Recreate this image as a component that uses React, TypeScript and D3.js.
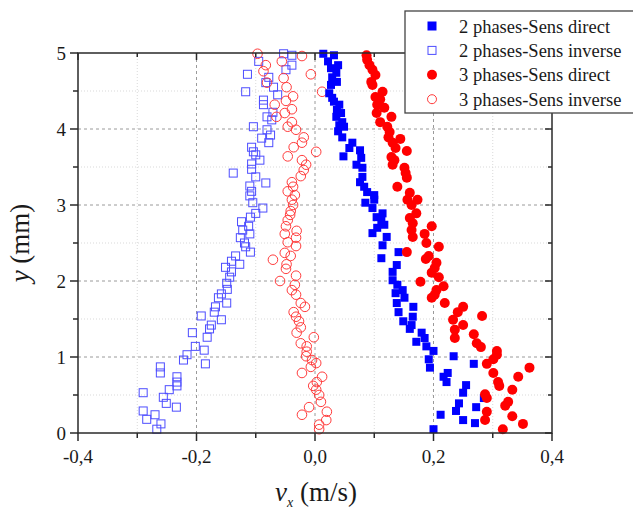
import React from "react";
import * as d3 from "d3";

// [vx (m/s), y (mm)]
const twoPhaseDirect: [number, number][] = [
  [0.014, 4.99], [0.032, 4.97], [0.022, 4.89], [0.039, 4.84], [0.027, 4.8], [0.036, 4.74], [0.029, 4.68],
  [0.037, 4.62], [0.027, 4.58], [0.024, 4.47], [0.029, 4.41], [0.032, 4.36], [0.041, 4.32], [0.037, 4.25],
  [0.044, 4.21], [0.036, 4.16], [0.046, 4.09], [0.041, 4.05], [0.049, 4.03], [0.039, 3.97], [0.046, 3.89],
  [0.063, 3.82], [0.058, 3.75], [0.076, 3.72], [0.048, 3.64], [0.078, 3.62], [0.07, 3.53], [0.08, 3.49],
  [0.08, 3.37], [0.076, 3.3], [0.083, 3.24], [0.088, 3.17], [0.1, 3.13], [0.1, 3.07], [0.085, 3.03],
  [0.097, 2.96], [0.114, 2.89], [0.104, 2.84], [0.112, 2.8], [0.117, 2.74], [0.105, 2.7], [0.097, 2.63],
  [0.121, 2.58], [0.114, 2.47], [0.141, 2.38], [0.112, 2.3], [0.138, 2.21], [0.131, 2.12], [0.131, 2.01],
  [0.139, 1.95], [0.148, 1.88], [0.136, 1.84], [0.151, 1.78], [0.138, 1.71], [0.166, 1.66], [0.141, 1.59],
  [0.165, 1.53], [0.149, 1.47], [0.163, 1.42], [0.16, 1.37], [0.18, 1.32], [0.185, 1.25], [0.171, 1.2],
  [0.188, 1.14], [0.2, 1.08], [0.234, 1.01], [0.192, 0.97], [0.268, 0.91], [0.194, 0.86], [0.224, 0.79],
  [0.217, 0.74], [0.222, 0.67], [0.255, 0.63], [0.25, 0.53], [0.285, 0.46], [0.243, 0.39], [0.272, 0.34],
  [0.238, 0.29], [0.212, 0.24], [0.25, 0.17], [0.27, 0.13], [0.2, 0.05],
];

const twoPhaseInverse: [number, number][] = [
  [-0.053, 4.99], [-0.039, 4.97], [-0.095, 4.89], [-0.039, 4.84], [-0.049, 4.78], [-0.114, 4.72],
  [-0.078, 4.68], [-0.083, 4.61], [-0.07, 4.55], [-0.117, 4.49], [-0.063, 4.45], [-0.087, 4.38],
  [-0.087, 4.32], [-0.071, 4.22], [-0.081, 4.16], [-0.073, 4.12], [-0.104, 4.03], [-0.081, 3.99],
  [-0.075, 3.92], [-0.09, 3.88], [-0.078, 3.82], [-0.107, 3.76], [-0.104, 3.7], [-0.1, 3.66],
  [-0.093, 3.59], [-0.107, 3.54], [-0.107, 3.47], [-0.138, 3.42], [-0.1, 3.37], [-0.083, 3.29],
  [-0.11, 3.25], [-0.107, 3.18], [-0.11, 3.12], [-0.105, 3.03], [-0.088, 2.96], [-0.1, 2.89],
  [-0.109, 2.84], [-0.124, 2.78], [-0.112, 2.72], [-0.122, 2.67], [-0.11, 2.62], [-0.126, 2.57],
  [-0.119, 2.5], [-0.117, 2.45], [-0.109, 2.38], [-0.134, 2.33], [-0.141, 2.26], [-0.127, 2.22],
  [-0.151, 2.18], [-0.141, 2.12], [-0.144, 2.05], [-0.149, 1.97], [-0.148, 1.89], [-0.158, 1.83],
  [-0.163, 1.78], [-0.149, 1.71], [-0.168, 1.66], [-0.17, 1.59], [-0.192, 1.54], [-0.158, 1.49],
  [-0.175, 1.42], [-0.178, 1.37], [-0.207, 1.32], [-0.182, 1.26], [-0.202, 1.14], [-0.187, 1.09],
  [-0.216, 1.03], [-0.222, 0.96], [-0.185, 0.91], [-0.261, 0.87], [-0.261, 0.79], [-0.233, 0.74],
  [-0.233, 0.67], [-0.233, 0.62], [-0.246, 0.57], [-0.29, 0.53], [-0.256, 0.47], [-0.251, 0.39],
  [-0.234, 0.34], [-0.29, 0.29], [-0.27, 0.24], [-0.284, 0.18], [-0.26, 0.12], [-0.267, 0.05],
];

const threePhaseDirect: [number, number][] = [
  [0.087, 4.97], [0.088, 4.91], [0.092, 4.84], [0.097, 4.78], [0.102, 4.71], [0.095, 4.62], [0.097, 4.58],
  [0.114, 4.49], [0.102, 4.42], [0.11, 4.39], [0.105, 4.32], [0.117, 4.28], [0.104, 4.21], [0.129, 4.16],
  [0.11, 4.09], [0.122, 4.03], [0.126, 3.96], [0.124, 3.89], [0.144, 3.87], [0.131, 3.82], [0.136, 3.75],
  [0.155, 3.71], [0.129, 3.63], [0.134, 3.59], [0.131, 3.53], [0.151, 3.49], [0.153, 3.42], [0.155, 3.36],
  [0.139, 3.24], [0.16, 3.16], [0.156, 3.07], [0.173, 3.07], [0.163, 3.0], [0.171, 2.89], [0.16, 2.83],
  [0.165, 2.76], [0.197, 2.72], [0.163, 2.67], [0.185, 2.62], [0.165, 2.58], [0.188, 2.5], [0.209, 2.45],
  [0.155, 2.38], [0.192, 2.33], [0.187, 2.29], [0.205, 2.24], [0.202, 2.17], [0.197, 2.11], [0.209, 2.05],
  [0.178, 1.99], [0.217, 1.93], [0.205, 1.88], [0.202, 1.82], [0.197, 1.78], [0.219, 1.71], [0.25, 1.66],
  [0.241, 1.59], [0.282, 1.54], [0.233, 1.49], [0.25, 1.42], [0.236, 1.36], [0.268, 1.3], [0.236, 1.25],
  [0.273, 1.18], [0.28, 1.13], [0.307, 1.08], [0.307, 1.03], [0.301, 0.97], [0.29, 0.91], [0.362, 0.86],
  [0.301, 0.79], [0.343, 0.74], [0.309, 0.67], [0.311, 0.62], [0.333, 0.57], [0.287, 0.51], [0.29, 0.46],
  [0.326, 0.41], [0.321, 0.36], [0.29, 0.28], [0.333, 0.22], [0.287, 0.17], [0.351, 0.12], [0.317, 0.05],
];

const threePhaseInverse: [number, number][] = [
  [-0.097, 4.99], [-0.022, 4.96], [-0.056, 4.89], [-0.083, 4.84], [-0.087, 4.76], [-0.007, 4.72],
  [-0.053, 4.67], [-0.081, 4.61], [-0.048, 4.55], [0.012, 4.49], [-0.037, 4.43], [-0.049, 4.37],
  [-0.068, 4.32], [-0.039, 4.26], [-0.051, 4.21], [-0.065, 4.16], [-0.039, 4.09], [-0.046, 4.03],
  [-0.032, 3.99], [-0.019, 3.89], [-0.022, 3.82], [-0.036, 3.76], [0.002, 3.7], [-0.046, 3.64],
  [-0.022, 3.59], [-0.015, 3.53], [-0.019, 3.46], [-0.024, 3.38], [-0.039, 3.3], [-0.037, 3.24],
  [-0.046, 3.18], [-0.034, 3.13], [-0.039, 3.07], [-0.037, 3.0], [-0.041, 2.92], [-0.042, 2.87],
  [-0.046, 2.8], [-0.049, 2.72], [-0.031, 2.66], [-0.051, 2.62], [-0.032, 2.57], [-0.046, 2.51],
  [-0.032, 2.46], [-0.051, 2.37], [-0.041, 2.33], [-0.071, 2.28], [-0.048, 2.22], [-0.049, 2.16],
  [-0.032, 2.07], [-0.059, 2.0], [-0.034, 1.95], [-0.039, 1.88], [-0.032, 1.82], [-0.024, 1.71],
  [-0.017, 1.66], [-0.036, 1.59], [-0.032, 1.53], [-0.027, 1.47], [-0.024, 1.39], [-0.031, 1.32],
  [-0.002, 1.26], [-0.024, 1.18], [-0.014, 1.14], [-0.014, 1.07], [-0.015, 1.01], [-0.005, 0.96],
  [0.002, 0.92], [-0.007, 0.87], [-0.022, 0.79], [0.012, 0.74], [0.003, 0.67], [-0.003, 0.62],
  [0.002, 0.57], [0.007, 0.5], [0.01, 0.41], [-0.01, 0.34], [0.02, 0.28], [-0.022, 0.24],
  [0.019, 0.17], [0.007, 0.11], [0.007, 0.05],
];

const xMajorTicks = [-0.4, -0.2, 0, 0.2, 0.4];
const xMinorTicks = [-0.3, -0.1, 0.1, 0.3];
const yMajorTicks = [0, 1, 2, 3, 4, 5];
const yMinorTicks = [0.5, 1.5, 2.5, 3.5, 4.5];
const legendLabels = [
  "2 phases-Sens direct",
  "2 phases-Sens inverse",
  "3 phases-Sens direct",
  "3 phases-Sens inverse",
];

const W = 633;
const H = 509;
const L = 78, R = 552, T = 53, B = 433;
const FONT = "'Liberation Serif', 'Times New Roman', 'DejaVu Serif', serif";
const AXIS = "#2a2a2a";
const TXT: React.CSSProperties = { fontFamily: FONT };

const fmt = (v: number) => d3.format(".1f")(v).replace(".", ",").replace("−", "-");

export default function App() {
  const x = d3.scaleLinear().domain([-0.4, 0.4]).range([L, R]);
  const y = d3.scaleLinear().domain([0, 5]).range([B, T]);
  const sq = 8;
  const r = 4.8;

  const square = (d: [number, number], i: number, filled: boolean) => (
    <rect
      key={i}
      x={x(d[0]) - sq / 2}
      y={y(d[1]) - sq / 2}
      width={sq}
      height={sq}
      fill={filled ? "#0000ff" : "none"}
      stroke={filled ? "none" : "#4d4dff"}
      strokeWidth={1}
    />
  );
  const circle = (d: [number, number], i: number, filled: boolean) => (
    <circle
      key={i}
      cx={x(d[0])}
      cy={y(d[1])}
      r={filled ? 5 : r}
      fill={filled ? "#ff0000" : "none"}
      stroke={filled ? "none" : "#ff3b3b"}
      strokeWidth={1}
    />
  );

  const legendSym = (i: number, cx: number, cy: number) => {
    if (i === 0) return <rect x={cx - 4.5} y={cy - 4.5} width={9} height={9} fill="#0000ff" />;
    if (i === 1) return <rect x={cx - 4} y={cy - 4} width={8} height={8} fill="none" stroke="#4d4dff" />;
    if (i === 2) return <circle cx={cx} cy={cy} r={5} fill="#ff0000" />;
    return <circle cx={cx} cy={cy} r={4.5} fill="none" stroke="#ff3b3b" />;
  };

  return (
    <svg width={W} height={H} style={{ position: "absolute", left: 0, top: 0, background: "#fff", fontFamily: FONT }}>
      <rect x={0} y={0} width={W} height={H} fill="#fff" />
      {xMinorTicks.map((t) => (
        <line key={"xm" + t} x1={x(t)} x2={x(t)} y1={T} y2={B} stroke="#d9d9d9" strokeWidth={1} strokeDasharray="1,2" />
      ))}
      {yMinorTicks.map((t) => (
        <line key={"ym" + t} x1={L} x2={R} y1={y(t)} y2={y(t)} stroke="#d9d9d9" strokeWidth={1} strokeDasharray="1,2" />
      ))}
      {xMajorTicks.slice(1, -1).map((t) => (
        <line key={"xg" + t} x1={x(t)} x2={x(t)} y1={T} y2={B} stroke="#9a9a9a" strokeWidth={1} strokeDasharray="3,3" />
      ))}
      {yMajorTicks.slice(1, -1).map((t) => (
        <line key={"yg" + t} x1={L} x2={R} y1={y(t)} y2={y(t)} stroke="#9a9a9a" strokeWidth={1} strokeDasharray="3,3" />
      ))}

      <g>{twoPhaseInverse.map((d, i) => square(d, i, false))}</g>
      <g>{threePhaseInverse.map((d, i) => circle(d, i, false))}</g>
      <g>{twoPhaseDirect.map((d, i) => square(d, i, true))}</g>
      <g>{threePhaseDirect.map((d, i) => circle(d, i, true))}</g>

      <rect x={L} y={T} width={R - L} height={B - T} fill="none" stroke={AXIS} strokeWidth={1.5} />
      {xMajorTicks.map((t) => (
        <line key={"bt" + t} x1={x(t)} x2={x(t)} y1={B} y2={B + 8} stroke={AXIS} strokeWidth={1.5} />
      ))}
      {xMinorTicks.map((t) => (
        <line key={"btm" + t} x1={x(t)} x2={x(t)} y1={B} y2={B + 5} stroke={AXIS} strokeWidth={1.5} />
      ))}
      {xMajorTicks.map((t) => (
        <line key={"tt" + t} x1={x(t)} x2={x(t)} y1={T} y2={T + 7} stroke={AXIS} strokeWidth={1.5} />
      ))}
      {xMinorTicks.map((t) => (
        <line key={"ttm" + t} x1={x(t)} x2={x(t)} y1={T} y2={T + 4} stroke={AXIS} strokeWidth={1.5} />
      ))}
      {yMajorTicks.map((t) => (
        <line key={"lt" + t} x1={L - 8} x2={L} y1={y(t)} y2={y(t)} stroke={AXIS} strokeWidth={1.5} />
      ))}
      {yMinorTicks.map((t) => (
        <line key={"ltm" + t} x1={L - 5} x2={L} y1={y(t)} y2={y(t)} stroke={AXIS} strokeWidth={1.5} />
      ))}
      {yMajorTicks.map((t) => (
        <line key={"rt" + t} x1={R - 7} x2={R} y1={y(t)} y2={y(t)} stroke={AXIS} strokeWidth={1.5} />
      ))}
      {yMinorTicks.map((t) => (
        <line key={"rtm" + t} x1={R - 4} x2={R} y1={y(t)} y2={y(t)} stroke={AXIS} strokeWidth={1.5} />
      ))}

      {xMajorTicks.map((t) => (
        <text key={"xl" + t} x={x(t)} y={B + 30} textAnchor="middle" fontSize={19} fill="#1a1a1a" style={TXT}>
          {fmt(t)}
        </text>
      ))}
      {yMajorTicks.map((t) => (
        <text key={"yl" + t} x={L - 12} y={y(t) + 6.5} textAnchor="end" fontSize={19} fill="#1a1a1a" style={TXT}>
          {String(t)}
        </text>
      ))}

      <text x={316} y={501} textAnchor="middle" fontSize={27} fill="#1a1a1a" style={TXT}>
        <tspan fontStyle="italic">v</tspan>
        <tspan fontStyle="italic" fontSize={14} dy={6}>x</tspan>
        <tspan dy={-6}> (m/s)</tspan>
      </text>
      <text transform={`translate(29,${(T + B) / 2}) rotate(-90)`} textAnchor="middle" fontSize={27} fill="#1a1a1a" style={TXT}>
        <tspan fontStyle="italic">y</tspan>
        <tspan> (mm)</tspan>
      </text>

      <rect x={405} y={11} width={240} height={102} fill="#fff" stroke="#444" strokeWidth={1.3} />
      {legendLabels.map((lab, i) => {
        const cy = 26 + i * 24.4;
        return (
          <g key={lab}>
            {legendSym(i, 432, cy)}
            <text x={459} y={cy + 6.5} fontSize={18.5} fill="#1a1a1a" style={TXT}>
              {lab}
            </text>
          </g>
        );
      })}
    </svg>
  );
}
